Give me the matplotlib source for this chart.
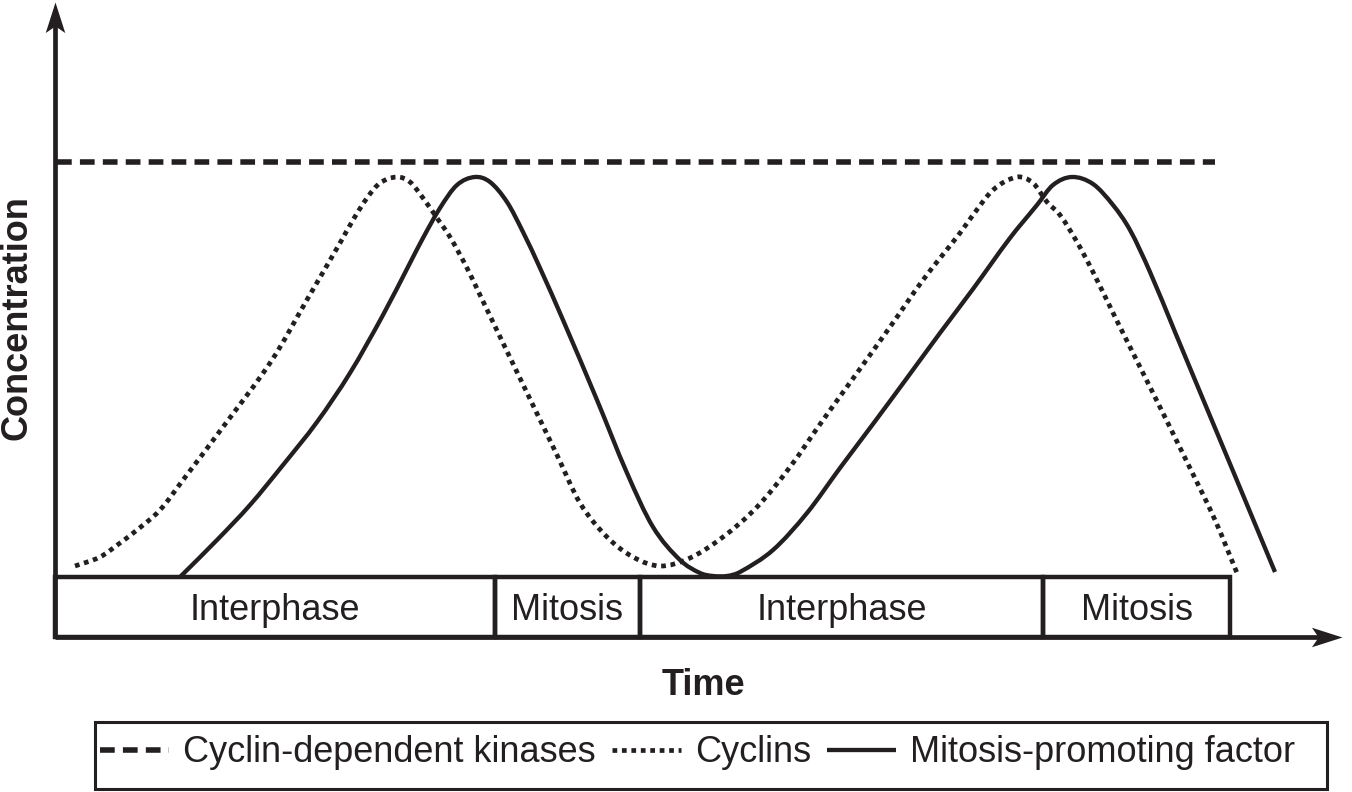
import matplotlib
matplotlib.use('Agg')
import matplotlib.pyplot as plt
from matplotlib.path import Path
from matplotlib.patches import PathPatch, Rectangle
from matplotlib.lines import Line2D

plt.rcParams['font.family'] = ['Liberation Sans', 'DejaVu Sans']

# ---------------- data (time units, concentration units) ----------------
cyclin_time = [20, 45, 65, 82, 105, 128, 168, 217, 253, 285, 298, 312, 325, 342, 355, 368,
               382, 395, 412, 425, 448, 475, 502, 525, 552, 578, 605, 635, 668, 702, 735,
               768, 802, 835, 868, 905, 918, 938, 962, 978, 992, 1005, 1022, 1038, 1062,
               1095, 1133, 1160, 1182]
cyclin_conc = [11, 20, 34, 47, 67, 97, 150, 217, 279, 334, 357, 379, 394, 400, 395, 379,
               359, 340, 309, 282, 234, 178, 122, 74, 40, 20, 11, 19, 40, 70, 110,
               157, 204, 250, 297, 344, 362, 387, 400, 394, 375, 362, 335, 305, 256,
               190, 113, 57, 4]

mpf_time = [125, 162, 195, 228, 262, 295, 328, 355, 368, 385, 402, 420, 435, 452, 468, 485,
            508, 542, 572, 598, 625, 645, 658, 672, 685, 718, 752, 785, 818, 852, 885,
            918, 955, 982, 998, 1017, 1038, 1058, 1075, 1095, 1120, 1145, 1178, 1220]
mpf_conc = [0, 37, 72, 112, 155, 204, 262, 314, 339, 369, 392, 400, 395, 375, 345, 309,
            257, 177, 104, 50, 17, 4, 1, 1, 5, 27, 64, 109, 153, 199, 244,
            288, 339, 372, 392, 400, 393, 372, 347, 305, 245, 185, 106, 5]

cdk_time = [2, 1160]
cdk_conc = [415, 415]

phase_names = ['Interphase', 'Mitosis', 'Interphase', 'Mitosis']
phase_edges = [0, 440, 585, 988, 1175]

series_labels = ['Cyclin-dependent kinases', 'Cyclins', 'Mitosis-promoting factor']
x_label = 'Time'
y_label = 'Concentration'

# ---------------- styling ----------------
INK = '#231f20'
FS = 26

fig = plt.figure(figsize=(13.52, 7.92), dpi=100)
ax = fig.add_axes([0, 0, 1, 1])
ax.set_xlim(-55, 1297)
ax.set_ylim(-215, 577)
ax.axis('off')


def smooth_path(xs, ys):
    """Cubic Hermite curve through the given points (drawn as Bezier segments)."""
    n = len(xs)
    m = []
    for i in range(n):
        a, b = max(i - 1, 0), min(i + 1, n - 1)
        m.append((ys[b] - ys[a]) / (xs[b] - xs[a]))
    verts = [(xs[0], ys[0])]
    codes = [Path.MOVETO]
    for i in range(n - 1):
        h = xs[i + 1] - xs[i]
        verts += [(xs[i] + h / 3, ys[i] + m[i] * h / 3),
                  (xs[i + 1] - h / 3, ys[i + 1] - m[i + 1] * h / 3),
                  (xs[i + 1], ys[i + 1])]
        codes += [Path.CURVE4] * 3
    return Path(verts, codes)


bar_bottom, bar_height = -60, 60

# phase boxes
widths = [phase_edges[i + 1] - phase_edges[i] for i in range(len(phase_names))]
ax.bar(phase_edges[:-1], [bar_height] * len(widths), width=widths, bottom=bar_bottom,
       align='edge', fill=False, edgecolor=INK, linewidth=3.2, zorder=3)
for i, name in enumerate(phase_names):
    ax.text((phase_edges[i] + phase_edges[i + 1]) / 2, bar_bottom + 17, name,
            ha='center', va='baseline', fontsize=FS, color=INK)

# axes with arrowheads
y_tip, x_tip = 575, 1287
ax.plot([0, 0], [bar_bottom, y_tip - 20], color=INK, lw=3.4, solid_capstyle='butt', zorder=4)
ax.plot([0, x_tip - 20], [bar_bottom, bar_bottom], color=INK, lw=3.4,
        solid_capstyle='butt', zorder=4)
up_head = Path([(0, 0), (-0.32, -1), (0, -0.78), (0.32, -1), (0, 0)],
               [Path.MOVETO, Path.LINETO, Path.LINETO, Path.LINETO, Path.CLOSEPOLY])
right_head = Path([(0, 0), (-1, 0.32), (-0.78, 0), (-1, -0.32), (0, 0)],
                  [Path.MOVETO, Path.LINETO, Path.LINETO, Path.LINETO, Path.CLOSEPOLY])
ax.plot([0], [y_tip], marker=up_head, markersize=44, color=INK, mew=0, zorder=5)
ax.plot([x_tip], [bar_bottom], marker=right_head, markersize=44, color=INK, mew=0, zorder=5)

# series
cdk_style = dict(color=INK, lw=4.0, linestyle=(0, (2.65, 1.475)), dash_capstyle='butt')
cyc_style = dict(color=INK, lw=3.4, linestyle=(0, (1.0, 1.0)), dash_capstyle='butt')
mpf_style = dict(color=INK, lw=3.1, linestyle='-', solid_capstyle='butt')

ax.plot(cdk_time, cdk_conc, zorder=2, **cdk_style)

cyc_patch = PathPatch(smooth_path(cyclin_time, cyclin_conc), fill=False, edgecolor=INK,
                      lw=3.4, linestyle=(0, (1.0, 1.0)), capstyle='butt',
                      joinstyle='round', zorder=2)
ax.add_patch(cyc_patch)
mpf_patch = PathPatch(smooth_path(mpf_time, mpf_conc), fill=False, edgecolor=INK,
                      lw=3.1, capstyle='butt', joinstyle='round', zorder=2)
ax.add_patch(mpf_patch)

# axis labels
ax.text(648, -118, x_label, ha='center', va='baseline', fontsize=FS, fontweight='bold', color=INK)
ax.text(-28, 259, y_label, ha='center', va='baseline', rotation=90, rotation_mode='anchor',
        fontsize=FS, fontweight='bold', color=INK)

# legend
handles = [Line2D([], [], **cdk_style), Line2D([], [], **cyc_style), Line2D([], [], **mpf_style)]
leg = ax.legend(handles=handles, labels=series_labels, loc='center left',
                bbox_to_anchor=(100 / 1352, 1 - 753 / 792), bbox_transform=fig.transFigure,
                ncol=3, fontsize=FS, frameon=False,
                handlelength=1.9, handletextpad=0.4, columnspacing=0.45,
                borderpad=0, borderaxespad=0)
for t in leg.get_texts():
    t.set_color(INK)
fig.add_artist(Rectangle((95 / 1352, 3 / 792), 1232 / 1352, 67 / 792,
                         transform=fig.transFigure, fill=False, edgecolor=INK, lw=2.2))

fig.savefig('out.png', dpi=100)
